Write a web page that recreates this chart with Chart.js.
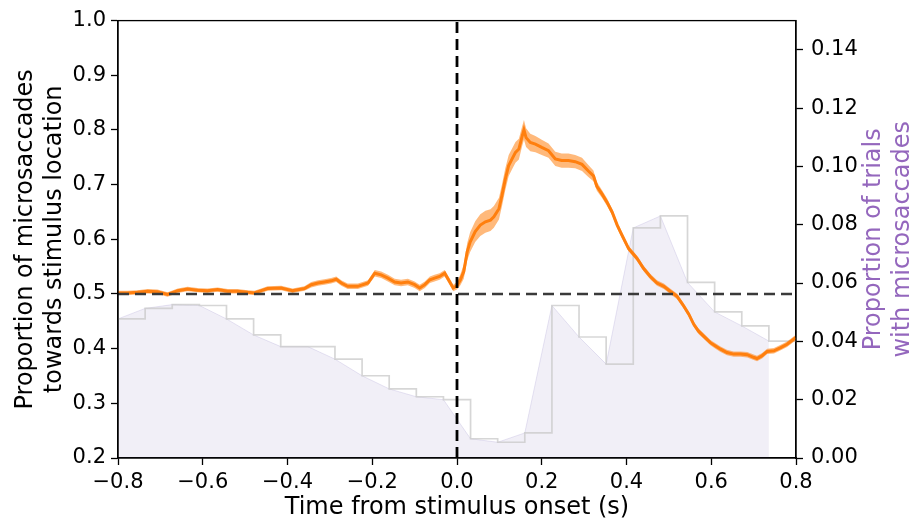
<!DOCTYPE html>
<html>
<head>
<meta charset="utf-8">
<script src="https://cdn.jsdelivr.net/npm/chart.js@4.4.1/dist/chart.umd.min.js"></script>
<style>
  html, body { margin: 0; padding: 0; background: #fff; }
  canvas { display: block; }
</style>
</head>
<body>
<canvas id="chart" width="912" height="521"></canvas>
<script>
// time axis (s) and directional bias of microsaccades
const times = [
  -0.800, -0.778, -0.754, -0.730, -0.707, -0.683, -0.659, -0.636, -0.612, -0.589,
  -0.565, -0.541, -0.518, -0.494, -0.478, -0.462, -0.447, -0.415, -0.388, -0.360,
  -0.344, -0.328, -0.313, -0.297, -0.285, -0.273, -0.258, -0.242, -0.234, -0.210,
  -0.194, -0.179, -0.163, -0.147, -0.132, -0.116, -0.100, -0.088, -0.076, -0.064,
  -0.053, -0.041, -0.029, -0.017, -0.009, 0.000, 0.008, 0.016, 0.024, 0.031,
  0.043, 0.055, 0.067, 0.079, 0.087, 0.099, 0.106, 0.114, 0.122, 0.130,
  0.138, 0.146, 0.154, 0.158, 0.163, 0.173, 0.185, 0.200, 0.216, 0.232,
  0.247, 0.263, 0.279, 0.295, 0.310, 0.322, 0.330, 0.342, 0.354, 0.366,
  0.378, 0.389, 0.405, 0.425, 0.440, 0.456, 0.472, 0.488, 0.503, 0.519,
  0.535, 0.547, 0.559, 0.570, 0.582, 0.598, 0.610, 0.622, 0.637, 0.653,
  0.669, 0.685, 0.697, 0.708, 0.720, 0.732, 0.748, 0.764, 0.779, 0.799
];
const towards = [
  0.502, 0.502, 0.503, 0.505, 0.504, 0.499, 0.506, 0.509, 0.507, 0.506,
  0.508, 0.505, 0.505, 0.503, 0.502, 0.506, 0.510, 0.511, 0.506, 0.510,
  0.517, 0.520, 0.522, 0.524, 0.527, 0.520, 0.514, 0.514, 0.514, 0.520,
  0.538, 0.535, 0.529, 0.522, 0.520, 0.522, 0.517, 0.511, 0.517, 0.526,
  0.529, 0.532, 0.538, 0.522, 0.511, 0.515, 0.526, 0.541, 0.577, 0.595,
  0.614, 0.626, 0.632, 0.635, 0.641, 0.656, 0.680, 0.710, 0.735, 0.747,
  0.759, 0.765, 0.789, 0.800, 0.786, 0.777, 0.774, 0.768, 0.762, 0.747,
  0.744, 0.744, 0.742, 0.737, 0.725, 0.716, 0.697, 0.683, 0.668, 0.650,
  0.626, 0.608, 0.583, 0.565, 0.547, 0.532, 0.520, 0.514, 0.505, 0.496,
  0.478, 0.463, 0.444, 0.432, 0.423, 0.411, 0.405, 0.399, 0.393, 0.390,
  0.390, 0.389, 0.385, 0.382, 0.387, 0.395, 0.396, 0.402, 0.408, 0.420
];
// half width of the shaded error band around the line
const towardsErr = [
  0.004, 0.004, 0.004, 0.004, 0.004, 0.004, 0.004, 0.004, 0.004, 0.004,
  0.004, 0.004, 0.004, 0.004, 0.004, 0.004, 0.004, 0.004, 0.004, 0.004,
  0.005, 0.005, 0.005, 0.005, 0.005, 0.005, 0.005, 0.005, 0.005, 0.005,
  0.006, 0.006, 0.006, 0.006, 0.006, 0.006, 0.006, 0.006, 0.006, 0.006,
  0.006, 0.006, 0.006, 0.006, 0.006, 0.007, 0.010, 0.013, 0.016, 0.018,
  0.019, 0.020, 0.020, 0.020, 0.020, 0.020, 0.020, 0.020, 0.019, 0.019,
  0.019, 0.019, 0.018, 0.018, 0.017, 0.016, 0.015, 0.014, 0.013, 0.013,
  0.013, 0.013, 0.012, 0.012, 0.011, 0.010, 0.008, 0.007, 0.007, 0.006,
  0.006, 0.006, 0.005, 0.005, 0.005, 0.005, 0.005, 0.005, 0.005, 0.005,
  0.005, 0.005, 0.005, 0.005, 0.005, 0.005, 0.005, 0.005, 0.005, 0.005,
  0.005, 0.005, 0.005, 0.005, 0.005, 0.005, 0.005, 0.005, 0.005, 0.005
];

// histogram of trials with microsaccades (bin starts, width 0.064 s)
const binStarts = [
  -0.800, -0.736, -0.672, -0.608, -0.544, -0.480, -0.416, -0.352, -0.288, -0.224,
  -0.160, -0.096, -0.032, 0.032, 0.096, 0.160, 0.224, 0.288, 0.352, 0.416,
  0.480, 0.544, 0.608, 0.672, 0.736
];
const binEnd = 0.8;
const trialProp = [
  0.0477, 0.0513, 0.0526, 0.0523, 0.0477, 0.0422, 0.0382, 0.0382, 0.0339, 0.0282,
  0.0237, 0.0210, 0.0200, 0.0066, 0.0054, 0.0086, 0.0523, 0.0415, 0.0322, 0.0789,
  0.0830, 0.0602, 0.0501, 0.0453, 0.0401
];

// axes
const xTicks = [-0.8, -0.6, -0.4, -0.2, 0.0, 0.2, 0.4, 0.6, 0.8];
const yTicks = [0.2, 0.3, 0.4, 0.5, 0.6, 0.7, 0.8, 0.9, 1.0];
const y2Ticks = [0.00, 0.02, 0.04, 0.06, 0.08, 0.10, 0.12, 0.14];
const y2Max = 0.15;
const chanceLevel = 0.5;
const onsetTime = 0.0;

const FONT = "'DejaVu Sans', sans-serif";
const PURPLE = '#9467bd';
const TICK_SIZE = 21;
const LABEL_SIZE = 24;

const pts = (xs, ys) => xs.map((x, i) => ({ x: x, y: ys[i] }));
const fmt = (v, d) => {
  if (Math.abs(v) < 1e-9) v = 0;
  return v.toFixed(d).replace('-', '\u2212');
};

const histStep = pts(binStarts, trialProp).concat([{ x: binEnd, y: trialProp[trialProp.length - 1] }]);

// titles drawn by hand so the right label reads bottom-to-top like the left one
const titlesPlugin = {
  id: 'titles',
  afterDraw(chart) {
    const ctx = chart.ctx;
    const a = chart.chartArea;
    ctx.save();
    // frame (top spine)
    ctx.strokeStyle = '#000';
    ctx.lineWidth = 1.3;
    ctx.strokeRect(a.left, a.top, a.right - a.left, a.bottom - a.top);

    ctx.font = LABEL_SIZE + 'px ' + FONT;
    ctx.textAlign = 'center';
    ctx.textBaseline = 'middle';
    ctx.fillStyle = '#000';
    ctx.fillText('Time from stimulus onset (s)', (a.left + a.right) / 2, 508);

    const midY = (a.top + a.bottom) / 2;
    const vText = (txt, x, color) => {
      ctx.save();
      ctx.translate(x, midY);
      ctx.rotate(-Math.PI / 2);
      ctx.fillStyle = color;
      ctx.fillText(txt, 0, 0);
      ctx.restore();
    };
    vText('Proportion of microsaccades', 26, '#000');
    vText('towards stimulus location', 55, '#000');
    vText('Proportion of trials', 874, PURPLE);
    vText('with microsaccades', 903, PURPLE);
    ctx.restore();
  }
};

const axisStyle = {
  grid: { drawOnChartArea: false, drawTicks: true, tickLength: 7, tickColor: '#000', tickWidth: 1.3 },
  border: { display: true, color: '#000', width: 1.3 }
};

new Chart(document.getElementById('chart'), {
  type: 'line',
  data: {
    datasets: [
      {
        // shaded histogram envelope
        data: pts(binStarts, trialProp),
        yAxisID: 'y2',
        borderColor: 'rgba(130,110,190,0.18)',
        borderWidth: 1,
        backgroundColor: 'rgba(120,100,180,0.1)',
        fill: 'origin',
        pointRadius: 0,
        order: 6
      },
      {
        // histogram outline
        data: histStep,
        yAxisID: 'y2',
        stepped: 'before',
        borderColor: 'rgba(200,200,200,0.75)',
        borderWidth: 1.7,
        fill: false,
        pointRadius: 0,
        order: 5
      },
      {
        data: pts(times, towards.map((v, i) => v + towardsErr[i])),
        yAxisID: 'y',
        borderWidth: 0,
        borderColor: 'rgba(0,0,0,0)',
        pointRadius: 0,
        fill: false,
        order: 4
      },
      {
        data: pts(times, towards.map((v, i) => v - towardsErr[i])),
        yAxisID: 'y',
        borderWidth: 0,
        borderColor: 'rgba(0,0,0,0)',
        backgroundColor: 'rgba(255,127,14,0.55)',
        pointRadius: 0,
        fill: '-1',
        order: 3
      },
      {
        data: pts(times, towards),
        yAxisID: 'y',
        borderColor: '#ff7f0e',
        borderWidth: 3,
        pointRadius: 0,
        fill: false,
        order: 2
      },
      {
        data: [{ x: xTicks[0], y: chanceLevel }, { x: xTicks[xTicks.length - 1], y: chanceLevel }],
        yAxisID: 'y',
        borderColor: '#3a3a3a',
        borderWidth: 2.5,
        borderDash: [11, 6],
        pointRadius: 0,
        fill: false,
        order: 1
      },
      {
        data: [{ x: onsetTime, y: yTicks[0] }, { x: onsetTime, y: yTicks[yTicks.length - 1] }],
        yAxisID: 'y',
        borderColor: '#000',
        borderWidth: 2.8,
        borderDash: [11, 6],
        pointRadius: 0,
        fill: false,
        order: 0
      }
    ]
  },
  options: {
    responsive: false,
    animation: false,
    devicePixelRatio: 1,
    layout: { padding: { top: 17, left: 0, right: 0, bottom: 0 } },
    plugins: { legend: { display: false }, tooltip: { enabled: false } },
    scales: {
      x: {
        type: 'linear',
        position: 'bottom',
        min: xTicks[0],
        max: xTicks[xTicks.length - 1],
        ...axisStyle,
        afterFit: s => { s.height = 63; },
        afterBuildTicks: s => { s.ticks = xTicks.map(v => ({ value: v })); },
        ticks: {
          color: '#000',
          font: { family: FONT, size: TICK_SIZE },
          padding: 5,
          maxRotation: 0,
          callback: v => fmt(v, 1)
        }
      },
      y: {
        type: 'linear',
        position: 'left',
        min: yTicks[0],
        max: yTicks[yTicks.length - 1],
        ...axisStyle,
        afterFit: s => { s.width = 118; },
        afterBuildTicks: s => { s.ticks = yTicks.map(v => ({ value: v })); },
        ticks: {
          color: '#000',
          font: { family: FONT, size: TICK_SIZE },
          padding: 5,
          callback: v => fmt(v, 1)
        }
      },
      y2: {
        type: 'linear',
        position: 'right',
        min: 0,
        max: y2Max,
        ...axisStyle,
        afterFit: s => { s.width = 116; },
        afterBuildTicks: s => { s.ticks = y2Ticks.map(v => ({ value: v })); },
        ticks: {
          color: '#000',
          font: { family: FONT, size: TICK_SIZE },
          padding: 8,
          callback: v => fmt(v, 2)
        }
      }
    }
  },
  plugins: [titlesPlugin]
});
</script>
</body>
</html>
